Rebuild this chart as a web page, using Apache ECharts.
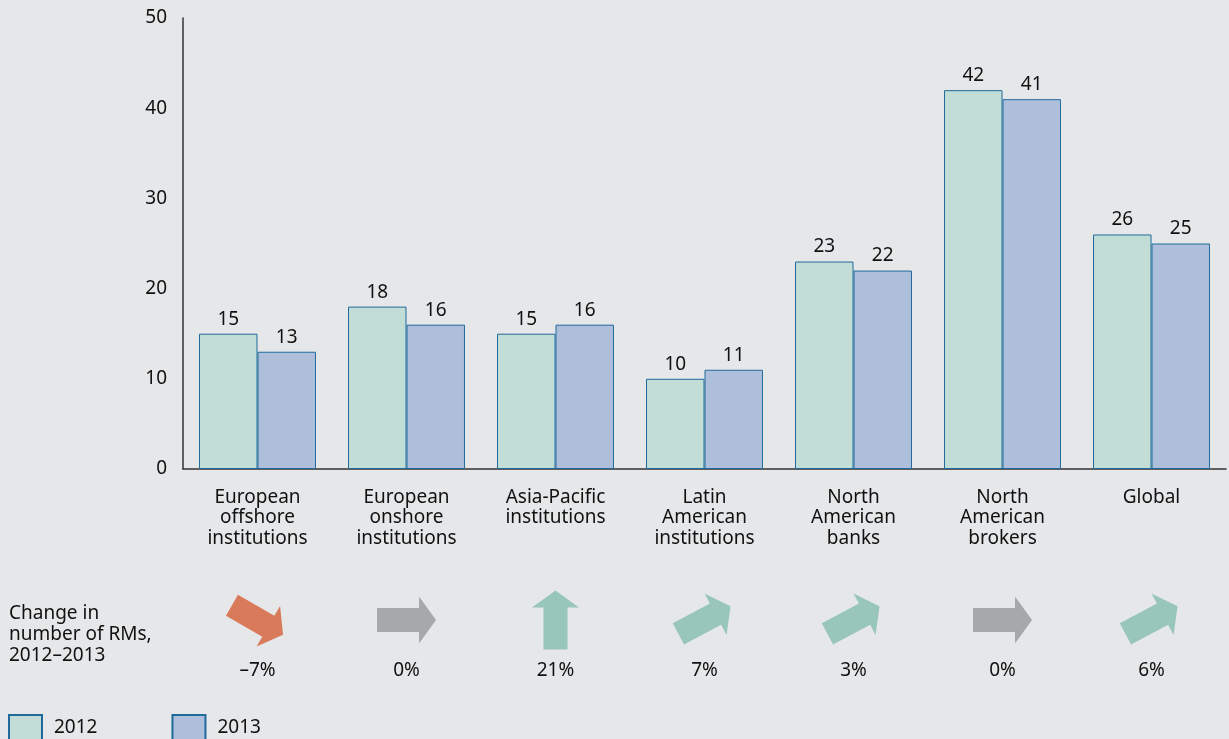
<!DOCTYPE html>
<html>
<head>
<meta charset="utf-8">
<script src="https://cdn.jsdelivr.net/npm/echarts@6/dist/echarts.min.js"></script>
<style>
html,body{margin:0;padding:0;background:#e6e7e9;}
#chart{width:1229px;height:739px;}
</style>
</head>
<body>
<div id="chart"></div>
<script>
var categories = ["European\noffshore\ninstitutions", "European\nonshore\ninstitutions", "Asia-Pacific\ninstitutions", "Latin\nAmerican\ninstitutions", "North\nAmerican\nbanks", "North\nAmerican\nbrokers", "Global"];
var values2012 = [15, 18, 15, 10, 23, 42, 26];
var values2013 = [13, 16, 16, 11, 22, 41, 25];
var changes = [-7, 0, 21, 7, 3, 0, 6];
var changeLabels = ["\u20137%", "0%", "21%", "7%", "3%", "0%", "6%"];
var yTicks = [0, 10, 20, 30, 40, 50];

var FONT = "Noto Sans";
var FS = 19;
var arrowPath = 'path://M0,11.5 L42,11.5 L42,0 L59,23.5 L42,47 L42,35.5 L0,35.5 Z';

function arrowStyle(c) {
  if (c < 0) return { rot: -30, color: '#d97b5b' };
  if (c === 0) return { rot: 0, color: '#a7a8ab' };
  if (c >= 20) return { rot: 90, color: '#98c6b8' };
  return { rot: 28, color: '#98c6b8' };
}

var arrowData = changes.map(function (c, i) {
  var s = arrowStyle(c);
  return {
    value: [i, 0.5],
    symbolRotate: s.rot,
    itemStyle: { color: s.color, opacity: 1 },
    label: { formatter: changeLabels[i] }
  };
});

var chart = echarts.init(document.getElementById('chart'));
chart.setOption({
  backgroundColor: '#e6e7e9',
  animation: false,
  textStyle: { fontFamily: FONT },
  legend: {
    left: 8, top: 714, padding: 0,
    itemWidth: 33, itemHeight: 26, itemGap: 74,
    icon: 'rect',
    textStyle: { fontFamily: FONT, fontSize: FS, color: '#111', padding: [0, 0, 0, 7] },
    data: ['2012', '2013']
  },
  graphic: [{
    type: 'text', left: 9, top: 603,
    style: { text: 'Change in\nnumber of RMs,\n2012\u20132013', font: FS + 'px "Noto Sans"', fill: '#111', lineHeight: 21 }
  }],
  grid: [
    { left: 183, right: 3, top: 18, bottom: 270 },
    { left: 183, right: 3, top: 600, height: 40 }
  ],
  xAxis: [{
    gridIndex: 0, type: 'category', data: categories,
    axisLine: { lineStyle: { color: '#333', width: 1.5 } },
    axisTick: { show: false },
    axisLabel: { fontFamily: FONT, fontSize: FS, color: '#111', lineHeight: 20.5, margin: 18, interval: 0 }
  }, {
    gridIndex: 1, type: 'category', data: categories, show: false
  }],
  yAxis: [{
    gridIndex: 0, type: 'value', min: 0, max: 50, interval: 10,
    axisLine: { show: true, lineStyle: { color: '#333', width: 1.5 } },
    axisTick: { show: false },
    splitLine: { show: false },
    axisLabel: { fontFamily: FONT, fontSize: FS, color: '#111', margin: 16,
      formatter: function (v) { return yTicks.indexOf(v) >= 0 ? String(v) : ''; } }
  }, {
    gridIndex: 1, type: 'value', min: 0, max: 1, show: false
  }],
  series: [{
    name: '2012', type: 'bar', data: values2012,
    barGap: '0%', barCategoryGap: '21.5%',
    itemStyle: { color: '#c2ddd6', borderColor: '#1f6a9a', borderWidth: 1 },
    label: { show: true, position: 'top', distance: 5, fontFamily: FONT, fontSize: FS, color: '#111' }
  }, {
    name: '2013', type: 'bar', data: values2013,
    itemStyle: { color: '#aebfdb', borderColor: '#1f6a9a', borderWidth: 1 },
    label: { show: true, position: 'top', distance: 5, fontFamily: FONT, fontSize: FS, color: '#111' }
  }, {
    type: 'scatter', xAxisIndex: 1, yAxisIndex: 1,
    symbol: arrowPath, symbolSize: [59, 47],
    data: arrowData,
    silent: true,
    label: { show: true, position: 'inside', offset: [0, 51], fontFamily: FONT, fontSize: FS, color: '#111' }
  }]
});
</script>
</body>
</html>
